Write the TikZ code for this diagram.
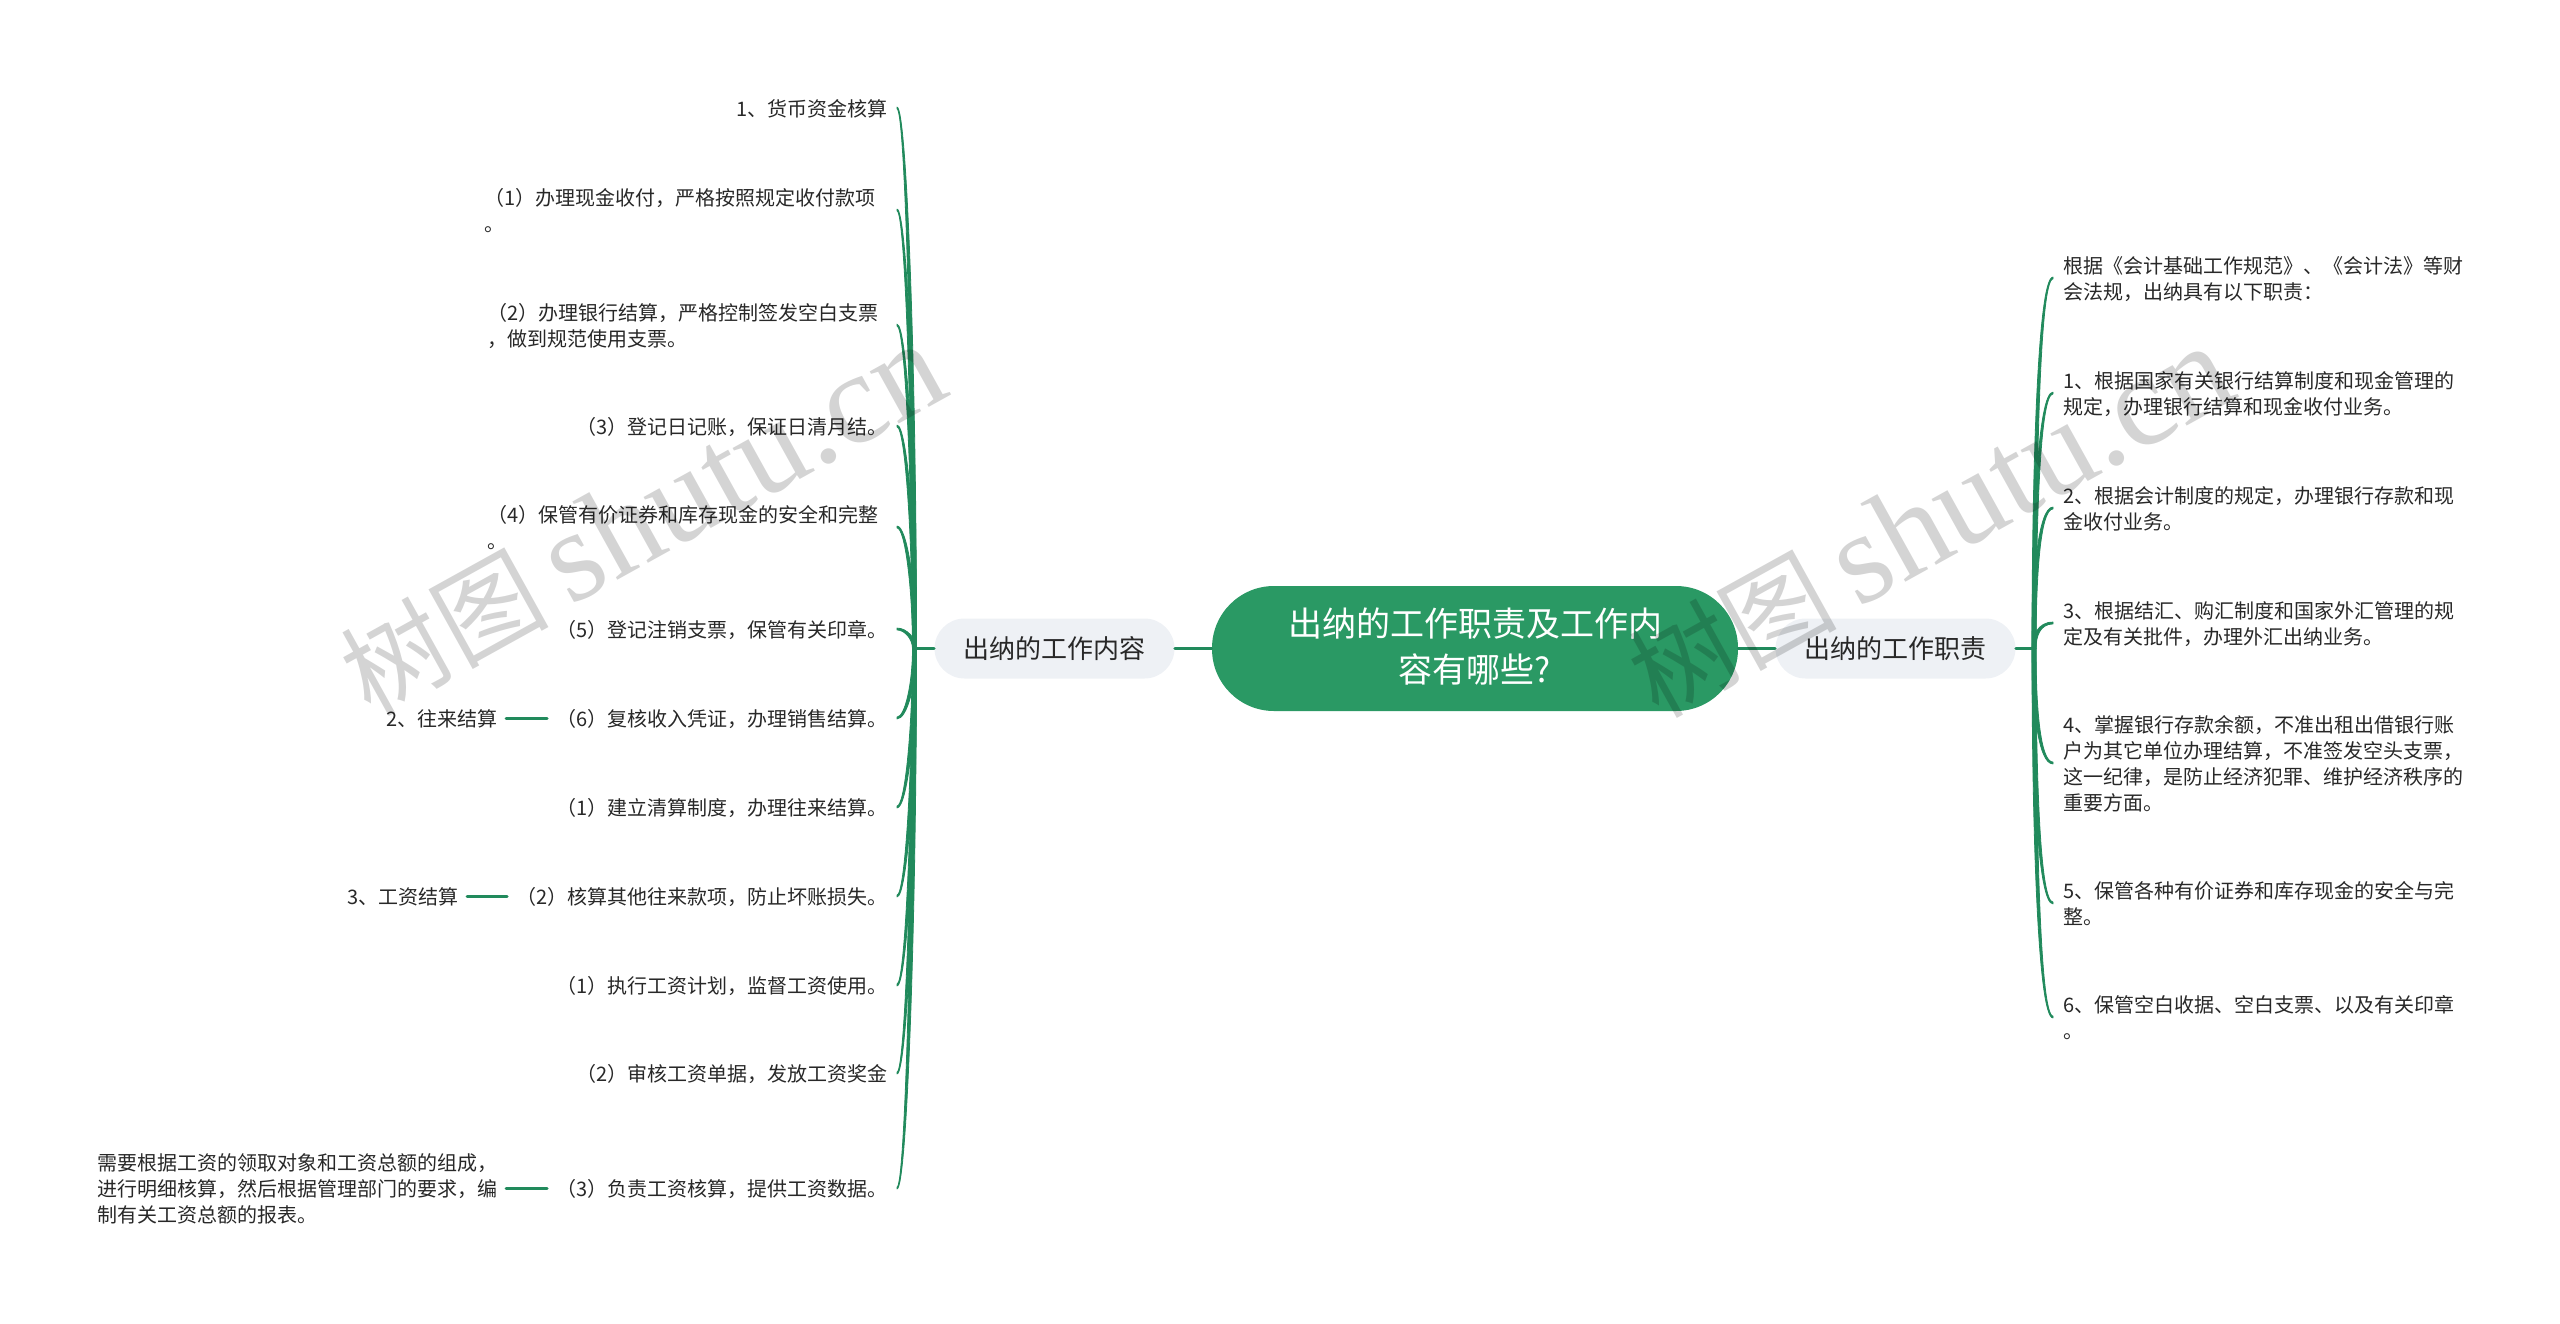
\documentclass[tikz,border=0pt]{standalone}
\usepackage{fontspec}
\setmainfont{Noto Sans CJK SC}
\newfontfamily\wmserif{Liberation Serif}
\usetikzlibrary{calc}
\definecolor{rootgreen}{RGB}{42,153,100}
\definecolor{linegreen}{RGB}{33,138,92}
\definecolor{branchfill}{RGB}{238,241,245}
\definecolor{inkdark}{RGB}{40,40,40}
\tikzset{
  rootbox/.style={rectangle,rounded corners=31pt,fill=rootgreen,text=white,minimum width=263pt,minimum height=62.5pt,inner sep=0pt,align=center,font=\fontsize{17}{23}\selectfont},
  branchbox/.style={rectangle,rounded corners=15pt,fill=branchfill,text=inkdark,minimum width=120pt,minimum height=30pt,inner sep=0pt,font=\fontsize{13}{16}\selectfont},
  leafbase/.style={rectangle,text=inkdark,inner ysep=1pt,align=left,yshift=-0.4pt,font=\fontsize{10}{13}\selectfont},
  leafleft/.style={leafbase,anchor=east,inner xsep=4.5pt},
  leafright/.style={leafbase,anchor=west,inner xsep=5pt},
  subleaf/.style={leafbase,anchor=east,inner xsep=4pt},
  conn/.style={draw=linegreen,line width=1.5pt,line cap=round},
  taper/.style={fill=linegreen,draw=linegreen,line width=0.4pt,line join=round},
  wmark/.style={text=black,opacity=0.17,rotate=29,inner sep=0pt,font=\fontsize{52}{60}\selectfont}
}
% tapered connector: trunk, end anchor, horizontal pull, side sign
\newcommand{\taperconn}[4]{%
  \fill[taper] ($(#1)+(-2,0)$)
    .. controls ($(#1)!.5!(#1|-#2)+(-2,0)$) and ($(#2)+(#3-1,-0.8+#4*1.1)$) .. ($(#2)+(0,-0.8+#4*0.9)$)
    -- ($(#2)+(0,-0.8-#4*0.9)$)
    .. controls ($(#2)+(#3+1,-0.8-#4*1.1)$) and ($(#1)!.5!(#1|-#2)+(2,0)$) .. ($(#1)+(2,0)$) -- cycle;}
\begin{document}
\begin{tikzpicture}[x=0.5pt,y=-0.5pt]
\useasboundingbox (0,0) rectangle (2560,1323);
\node[rootbox] (root) at (1475,648.5) {出纳的工作职责及工作内\\容有哪些?\rule[-3.5pt]{0pt}{1pt}};
\node[branchbox] (bl) at (1054.5,648.5) {出纳的工作内容};
\node[branchbox] (br) at (1895.5,648.5) {出纳的工作职责};
\coordinate (ltrunk) at (914.5,648.5);
\coordinate (rtrunk) at (2034,648.5);
\draw[conn] (root.west) -- (bl.east);
\draw[conn] (root.east) -- (br.west);
\draw[conn] (bl.west) -- (ltrunk);
\draw[conn] (br.east) -- (rtrunk);
% left leaves
\node[leafleft] (l1) at (897,108) {1、货币资金核算};
\node[leafleft] (l2) at (897,210) {（1）办理现金收付，严格按照规定收付款项\rule{6pt}{0pt}\\。};
\node[leafleft] (l3) at (897,325) {（2）办理银行结算，严格控制签发空白支票\rule{4.5pt}{0pt}\\，做到规范使用支票。};
\node[leafleft] (l4) at (897,426) {（3）登记日记账，保证日清月结。};
\node[leafleft] (l5) at (897,527) {（4）保管有价证券和库存现金的安全和完整\rule{4.5pt}{0pt}\\。};
\node[leafleft] (l6) at (897,629) {（5）登记注销支票，保管有关印章。};
\node[leafleft] (l7) at (897,718) {（6）复核收入凭证，办理销售结算。};
\node[leafleft] (l8) at (897,807) {（1）建立清算制度，办理往来结算。};
\node[leafleft] (l9) at (897,896) {（2）核算其他往来款项，防止坏账损失。};
\node[leafleft] (l10) at (897,985) {（1）执行工资计划，监督工资使用。};
\node[leafleft] (l11) at (897,1073) {（2）审核工资单据，发放工资奖金};
\node[leafleft] (l12) at (897,1188) {（3）负责工资核算，提供工资数据。};
\node[subleaf] (s7) at (506,718) {2、往来结算};
\node[subleaf] (s9) at (467,896) {3、工资结算};
\node[subleaf] (s12) at (506,1188) {需要根据工资的领取对象和工资总额的组成，\\进行明细核算，然后根据管理部门的要求，编\\制有关工资总额的报表。};
% right leaves
\node[leafright] (r1) at (2053,278) {根据《会计基础工作规范》、《会计法》等财\\会法规，出纳具有以下职责：};
\node[leafright] (r2) at (2053,393) {1、根据国家有关银行结算制度和现金管理的\\规定，办理银行结算和现金收付业务。};
\node[leafright] (r3) at (2053,508) {2、根据会计制度的规定，办理银行存款和现\\金收付业务。};
\node[leafright] (r4) at (2053,623) {3、根据结汇、购汇制度和国家外汇管理的规\\定及有关批件，办理外汇出纳业务。};
\node[leafright] (r5) at (2053,763) {4、掌握银行存款余额，不准出租出借银行账\\户为其它单位办理结算，不准签发空头支票，\\这一纪律，是防止经济犯罪、维护经济秩序的\\重要方面。};
\node[leafright] (r6) at (2053,903) {5、保管各种有价证券和库存现金的安全与完\\整。};
\node[leafright] (r7) at (2053,1017) {6、保管空白收据、空白支票、以及有关印章\\。};
% curves
\foreach \i in {1,...,6} {\taperconn{ltrunk}{l\i.east}{9}{1}}
\foreach \i in {7,...,12} {\taperconn{ltrunk}{l\i.east}{9}{-1}}
\foreach \i in {1,...,4} {\taperconn{rtrunk}{r\i.west}{-14}{-1}}
\foreach \i in {5,...,7} {\taperconn{rtrunk}{r\i.west}{-14}{1}}
\begin{scope}[yshift=0.4pt]
\draw[conn] (l7.west) -- (s7.east);
\draw[conn] (l9.west) -- (s9.east);
\draw[conn] (l12.west) -- (s12.east);
\end{scope}
% watermarks
\node[wmark] (wm1) at (642,520) {树图\hspace{0.2em}{\wmserif\fontsize{65}{70}\selectfont shutu.cn}};
\node[wmark] (wm2) at (1930,522) {树图\hspace{0.2em}{\wmserif\fontsize{65}{70}\selectfont shutu.cn}};
\end{tikzpicture}
\end{document}
